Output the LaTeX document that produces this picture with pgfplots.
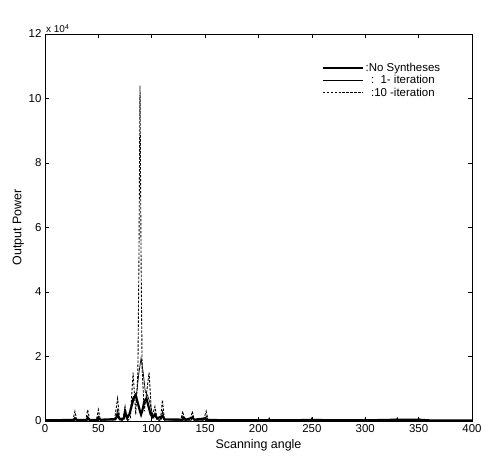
\documentclass[border=0pt]{standalone}
\usepackage{fontspec}
\setmainfont{Liberation Sans}
\usepackage{pgfplots}
\pgfplotsset{compat=1.18}
\begin{document}
\begin{tikzpicture}
\begin{axis}[
    scale only axis,
    width=427bp, height=387bp,
    xmin=0, xmax=400, ymin=0, ymax=12,
    xtick={0,50,...,400},
    ytick={0,2,...,12},
    tick align=inside,
    major tick length=4bp,
    tick style={black, line width=0.6pt},
    axis line style={line width=0.8pt},
    /pgf/number format/assume math mode=true,
    ticklabel style={font=\fontsize{11.5}{13}\selectfont},
    label style={font=\fontsize{12.5}{14}\selectfont},
    xlabel={Scanning angle},
    ylabel={Output Power},
    xlabel style={yshift=0bp},
    ylabel style={yshift=-2bp},
    legend style={draw=none, fill=none, at={(0.64,0.935)}, anchor=north west,
        font=\fontsize{11.5}{12}\selectfont, row sep=-1.5bp},
    legend image code/.code={\draw[#1] (0bp,0bp) -- (40bp,0bp);},
    clip mode=individual,
]
% No Syntheses (thick)
\addplot[black, line width=2.2pt] coordinates {
(0,0.02) (20,0.03) (27,0.03) (28,0.07) (30,0.03) (39,0.03) (40,0.09) (42,0.03)
(49,0.03) (50,0.09) (52,0.04) (60,0.05) (66,0.06) (68,0.18) (70,0.06) (74,0.08)
(75,0.3) (77,0.1) (79,0.2) (81,0.45) (83,0.7) (85,0.8) (87,0.55) (89,0.3)
(90,0.2) (91,0.3) (93,0.6) (95,0.7) (97,0.45) (99,0.2) (101,0.12) (103,0.2)
(105,0.08) (110,0.15) (112,0.05) (120,0.05) (129,0.04) (130,0.1) (132,0.04)
(138,0.1) (140,0.04) (150,0.08) (152,0.03) (200,0.02) (250,0.03) (300,0.02)
(330,0.04) (350,0.04) (360,0.02) (400,0.02)};
\addlegendentry{:No Syntheses}
% 1-iteration (thin)
\addplot[black, line width=0.7pt] coordinates {
(0,0.01) (26,0.01) (28,0.12) (30,0.01) (38,0.01) (40,0.15) (42,0.01) (48,0.01)
(50,0.15) (52,0.02) (60,0.03) (66,0.03) (68,0.35) (70,0.03) (73,0.05) (75,0.35)
(77,0.05) (80,0.3) (82,0.7) (84,0.8) (86,0.9) (88,1.5) (90,1.95) (92,1.5)
(94,0.9) (96,0.8) (98,0.6) (100,0.3) (102,0.1) (103,0.25) (105,0.05) (109,0.05)
(110,0.3) (112,0.03) (128,0.02) (129,0.15) (131,0.02) (137,0.02) (138,0.15)
(140,0.02) (149,0.02) (151,0.15) (153,0.02) (199,0.02) (200,0.08) (201,0.02)
(209,0.02) (210,0.1) (211,0.02) (249,0.02) (250,0.1) (251,0.02) (299,0.02)
(300,0.08) (301,0.02) (329,0.03) (330,0.1) (331,0.03) (349,0.03) (350,0.1)
(351,0.02) (400,0.02)};
\addlegendentry{:\ \ 1- iteration}
% 10-iteration (dashed)
\addplot[black, line width=0.9pt, dash pattern=on 2.5pt off 1.5pt] coordinates {
(0,0) (26,0) (28,0.3) (30,0) (38,0) (40,0.35) (42,0) (48,0) (50,0.35) (52,0)
(65,0) (68,0.7) (70,0.05) (73,0) (75,0.45) (77,0) (80,0.1) (82.5,1.5) (85,0.2)
(87,1.5) (88,5) (89,10.4) (90,5) (91,1.6) (93,0.3) (97.5,1.5) (100,0.1)
(103,0.45) (105,0.05) (108,0) (110,0.65) (112,0) (127,0) (129,0.3) (131,0)
(136,0) (138,0.3) (140,0) (148,0) (151,0.3) (153,0) (400,0)};
\addlegendentry{:10 -iteration}
\node[anchor=south west, font=\fontsize{10}{11}\selectfont, inner sep=1bp]
    at (rel axis cs:0,1) {x 10\textsuperscript{4}};
\end{axis}
\pgfresetboundingbox
\path (-45bp,-41bp) rectangle (440bp,421bp);
\end{tikzpicture}
\end{document}
